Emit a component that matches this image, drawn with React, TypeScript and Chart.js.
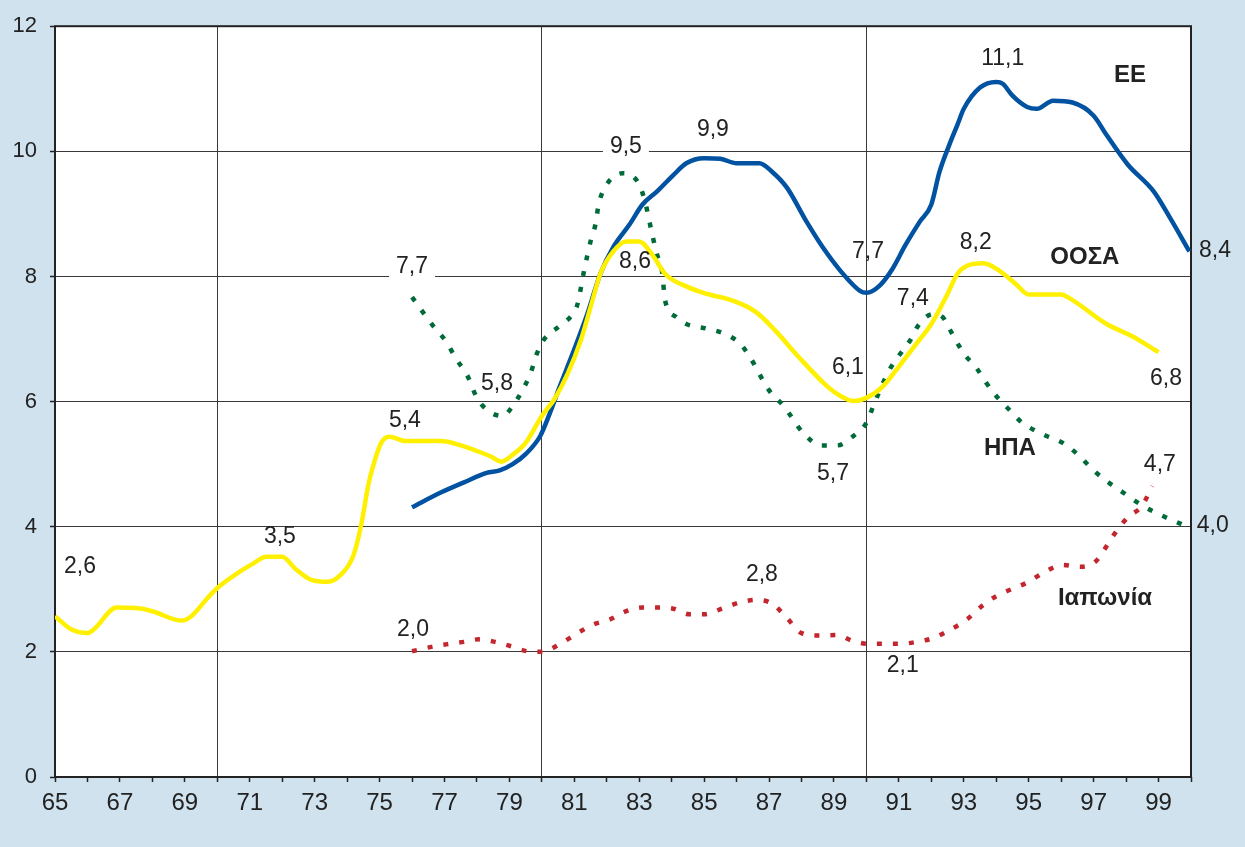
import React, { useEffect, useRef } from "react";
import { Chart, registerables } from "chart.js";

Chart.register(...registerables);

// ---- Data (year, unemployment %) ----
const ooYears = [65, 65.5, 66, 66.2, 66.9, 67.5, 68, 68.9, 69.2, 69.7, 70, 70.6, 71.1, 71.5, 72, 72.4, 72.9, 73.4, 73.8, 74.2, 74.45, 74.65, 74.8, 75.05, 75.3, 75.8, 76.9, 77.5, 78, 78.4, 78.75, 79.1, 79.5, 80, 80.4, 80.8, 81.2, 81.5, 81.8, 82.2, 82.6, 83, 83.4, 83.8, 84.5, 85.1, 85.9, 86.6, 87.2, 87.9, 88.8, 89.2, 89.6, 90, 90.5, 91, 91.5, 92, 92.5, 92.8, 93.1, 93.6, 94.1, 94.6, 95, 96, 96.2, 97.4, 98.2, 99];
const ooValues = [2.57, 2.36, 2.3, 2.36, 2.71, 2.7, 2.65, 2.5, 2.57, 2.86, 3.02, 3.25, 3.41, 3.52, 3.52, 3.33, 3.15, 3.12, 3.23, 3.55, 4.07, 4.66, 4.97, 5.34, 5.44, 5.37, 5.37, 5.3, 5.21, 5.13, 5.04, 5.15, 5.34, 5.77, 6.05, 6.45, 6.98, 7.51, 8.04, 8.4, 8.56, 8.56, 8.35, 8.04, 7.83, 7.72, 7.61, 7.43, 7.13, 6.72, 6.24, 6.09, 6.01, 6.06, 6.24, 6.56, 6.9, 7.24, 7.72, 8.04, 8.17, 8.21, 8.09, 7.88, 7.71, 7.71, 7.67, 7.24, 7.04, 6.79];

const eeYears = [76, 76.9, 77.6, 78.3, 78.7, 79.1, 79.5, 79.95, 80.25, 80.55, 80.95, 81.4, 81.8, 82.2, 82.7, 83.1, 83.55, 84.05, 84.45, 85, 85.5, 86, 86.7, 87.1, 87.55, 88.15, 88.65, 89.2, 89.8, 90, 90.4, 90.8, 91.2, 91.65, 92, 92.25, 92.55, 92.8, 93, 93.5, 94, 94.2, 94.5, 94.95, 95.25, 95.75, 96.35, 97, 97.4, 98.05, 98.85, 99.35, 99.95];
const eeValues = [4.31, 4.55, 4.71, 4.86, 4.9, 5.0, 5.16, 5.45, 5.82, 6.24, 6.77, 7.4, 8.04, 8.47, 8.83, 9.15, 9.36, 9.62, 9.81, 9.89, 9.88, 9.81, 9.81, 9.67, 9.42, 8.88, 8.47, 8.09, 7.77, 7.74, 7.85, 8.12, 8.5, 8.88, 9.15, 9.67, 10.1, 10.42, 10.68, 11.02, 11.11, 11.08, 10.89, 10.71, 10.68, 10.81, 10.78, 10.57, 10.26, 9.79, 9.36, 8.94, 8.4];

const usYears = [76, 76.65, 77.05, 77.35, 77.7, 78, 78.35, 78.8, 79.1, 79.4, 79.65, 79.85, 80.05, 80.55, 80.95, 81.1, 81.3, 81.5, 81.65, 81.75, 82, 82.5, 83, 83.2, 83.4, 83.55, 83.7, 83.8, 84.15, 84.45, 85.05, 85.6, 86.1, 86.4, 87, 87.45, 88.05, 88.6, 89.1, 89.6, 90, 90.25, 90.7, 91.05, 91.35, 91.6, 92.05, 92.35, 92.55, 93, 93.4, 93.65, 94, 94.4, 94.8, 95.15, 95.55, 96.05, 96.5, 97, 97.45, 97.9, 98.5, 99.1, 99.8];
const usValues = [7.67, 7.21, 6.96, 6.69, 6.42, 6.06, 5.85, 5.77, 5.93, 6.18, 6.45, 6.77, 6.98, 7.21, 7.4, 7.56, 8.09, 8.56, 8.83, 9.15, 9.47, 9.65, 9.47, 9.15, 8.67, 8.35, 8.09, 7.61, 7.35, 7.24, 7.17, 7.09, 6.93, 6.72, 6.18, 5.93, 5.5, 5.3, 5.3, 5.45, 5.66, 5.98, 6.5, 6.77, 6.98, 7.22, 7.4, 7.35, 7.17, 6.77, 6.53, 6.33, 6.09, 5.87, 5.66, 5.55, 5.45, 5.34, 5.16, 4.9, 4.71, 4.55, 4.34, 4.18, 4.02];

const jpYears = [76, 76.6, 77.05, 77.6, 78.05, 78.55, 79.05, 79.55, 80, 80.6, 81.1, 81.6, 82.1, 82.6, 83.1, 83.6, 84.05, 84.55, 85, 85.55, 86.1, 86.6, 87.1, 87.55, 88, 88.55, 89.1, 89.55, 90.05, 90.55, 91.05, 91.55, 92.05, 92.6, 93.1, 93.55, 94, 95, 95.5, 96.05, 96.6, 97.05, 97.35, 97.65, 98.05, 98.5, 98.8];
const jpValues = [2.01, 2.08, 2.12, 2.16, 2.2, 2.16, 2.09, 2.01, 2.0, 2.14, 2.3, 2.44, 2.52, 2.65, 2.71, 2.71, 2.69, 2.6, 2.6, 2.69, 2.79, 2.83, 2.77, 2.54, 2.3, 2.26, 2.27, 2.18, 2.13, 2.13, 2.13, 2.16, 2.22, 2.36, 2.52, 2.73, 2.89, 3.12, 3.28, 3.39, 3.36, 3.44, 3.65, 3.89, 4.15, 4.34, 4.65];

// value annotations: text, anchor year, anchor value, white box behind
const valueTexts = ["2,6", "3,5", "5,4", "7,7", "5,8", "2,0", "9,5", "9,9", "8,6", "2,8", "5,7", "6,1", "7,7", "7,4", "2,1", "8,2", "11,1", "8,4", "6,8", "4,7", "4,0"];
const valueYears = [65.77, 71.93, 75.78, 76.0, 78.62, 76.03, 82.59, 85.27, 82.87, 86.78, 88.97, 89.43, 90.05, 91.43, 91.12, 93.37, 94.2, 100.74, 99.23, 99.04, 100.67];
const valueLevels = [3.36, 3.84, 5.69, 8.16, 6.29, 2.36, 10.08, 10.34, 8.23, 3.23, 4.85, 6.55, 8.4, 7.64, 1.78, 8.54, 11.48, 8.42, 6.37, 4.99, 4.01];
const valueBoxed = [false, false, false, true, false, false, true, false, false, false, false, false, false, false, true, false, false, false, false, false, false];

// series name annotations
const seriesNames = ["ΕΕ", "ΟΟΣΑ", "ΗΠΑ", "Ιαπωνία"];
const seriesNameYears = [98.12, 96.73, 94.42, 97.35];
const seriesNameLevels = [11.22, 8.31, 5.26, 2.85];

const FONT = '"Liberation Sans", Arial, sans-serif';
const BG = "#cfe2ee";
const INK = "#222222";
const GRID = "#3a3a3a";

const toPoints = (xs: number[], ys: number[]) => xs.map((x, i) => ({ x, y: ys[i] }));

const framePlugin = {
  id: "frame",
  beforeDraw(chart: any) {
    const { ctx, width, height, chartArea: a } = chart;
    ctx.save();
    ctx.fillStyle = BG;
    ctx.fillRect(0, 0, width, height);
    ctx.fillStyle = "#ffffff";
    ctx.fillRect(a.left, a.top, a.right - a.left, a.bottom - a.top);
    ctx.restore();
  },
  beforeDatasetsDraw(chart: any) {
    const { ctx, chartArea: a } = chart;
    ctx.save();
    ctx.strokeStyle = INK;
    ctx.lineWidth = 2;
    ctx.strokeRect(a.left, a.top, a.right - a.left, a.bottom - a.top);
    ctx.restore();
  },
  afterDatasetsDraw(chart: any) {
    const { ctx } = chart;
    const xs = chart.scales.x;
    const ys = chart.scales.y;
    ctx.save();
    ctx.textAlign = "center";
    ctx.textBaseline = "middle";
    ctx.font = `23px ${FONT}`;
    valueTexts.forEach((t, i) => {
      const px = xs.getPixelForValue(valueYears[i]);
      const py = ys.getPixelForValue(valueLevels[i]);
      if (valueBoxed[i]) {
        const w = ctx.measureText(t).width + 14;
        ctx.fillStyle = "#ffffff";
        ctx.fillRect(px - w / 2, py - 13, w, 26);
      }
      ctx.fillStyle = INK;
      ctx.fillText(t, px, py);
    });
    ctx.font = `bold 24px ${FONT}`;
    seriesNames.forEach((t, i) => {
      const px = xs.getPixelForValue(seriesNameYears[i]);
      const py = ys.getPixelForValue(seriesNameLevels[i]);
      ctx.fillStyle = INK;
      ctx.fillText(t, px, py);
    });
    ctx.restore();
  },
};

export default function App() {
  const ref = useRef<HTMLCanvasElement | null>(null);

  useEffect(() => {
    document.body.style.margin = "0";
    document.body.style.background = BG;
    const canvas = ref.current;
    if (!canvas) return;
    const chart = new Chart(canvas, {
      type: "line",
      data: {
        datasets: [
          {
            label: "ΟΟΣΑ",
            data: toPoints(ooYears, ooValues),
            borderColor: "#fff000",
            borderWidth: 4.5,
            pointRadius: 0,
            cubicInterpolationMode: "monotone",
            borderCapStyle: "butt",
          },
          {
            label: "ΕΕ",
            data: toPoints(eeYears, eeValues),
            borderColor: "#0152a1",
            borderWidth: 4.5,
            pointRadius: 0,
            cubicInterpolationMode: "monotone",
            borderCapStyle: "butt",
          },
          {
            label: "ΗΠΑ",
            data: toPoints(usYears, usValues),
            borderColor: "#006b38",
            borderWidth: 4.5,
            borderDash: [5, 11],
            pointRadius: 0,
            cubicInterpolationMode: "monotone",
            borderCapStyle: "butt",
          },
          {
            label: "Ιαπωνία",
            data: toPoints(jpYears, jpValues),
            borderColor: "#c4262e",
            borderWidth: 4.5,
            borderDash: [5, 11],
            pointRadius: 0,
            cubicInterpolationMode: "monotone",
            borderCapStyle: "butt",
          },
        ],
      },
      options: {
        responsive: false,
        animation: false,
        events: [],
        layout: { padding: { top: 22, right: 54, left: 0, bottom: 0 } },
        plugins: {
          legend: { display: false },
          tooltip: { enabled: false },
        },
        scales: {
          x: {
            type: "linear",
            min: 65,
            max: 100,
            afterFit: (s: any) => {
              s.height = 70;
            },
            border: { display: false },
            grid: {
              color: (c: any) =>
                c.tick && [70, 80, 90].includes(Math.round(c.tick.value)) ? GRID : "rgba(0,0,0,0)",
              tickColor: INK,
              tickLength: 5,
              lineWidth: 1,
              tickWidth: 1.5,
            },
            ticks: {
              stepSize: 1,
              autoSkip: false,
              maxRotation: 0,
              padding: 7,
              color: INK,
              font: { family: FONT, size: 24 },
              callback: (v: any) => {
                const n = Math.round(Number(v));
                return n % 2 === 1 ? String(n) : "";
              },
            },
          },
          y: {
            min: 0,
            max: 12,
            afterFit: (s: any) => {
              s.width = 55;
            },
            border: { display: false },
            grid: {
              color: GRID,
              tickColor: INK,
              tickLength: 5,
              lineWidth: 1,
              tickWidth: 1.5,
            },
            ticks: {
              stepSize: 2,
              padding: 13,
              color: INK,
              font: { family: FONT, size: 22 },
            },
          },
        },
      },
      plugins: [framePlugin],
    } as any);
    return () => chart.destroy();
  }, []);

  return (
    <canvas
      ref={ref}
      width={1245}
      height={847}
      style={{ display: "block", width: 1245, height: 847 }}
    />
  );
}
